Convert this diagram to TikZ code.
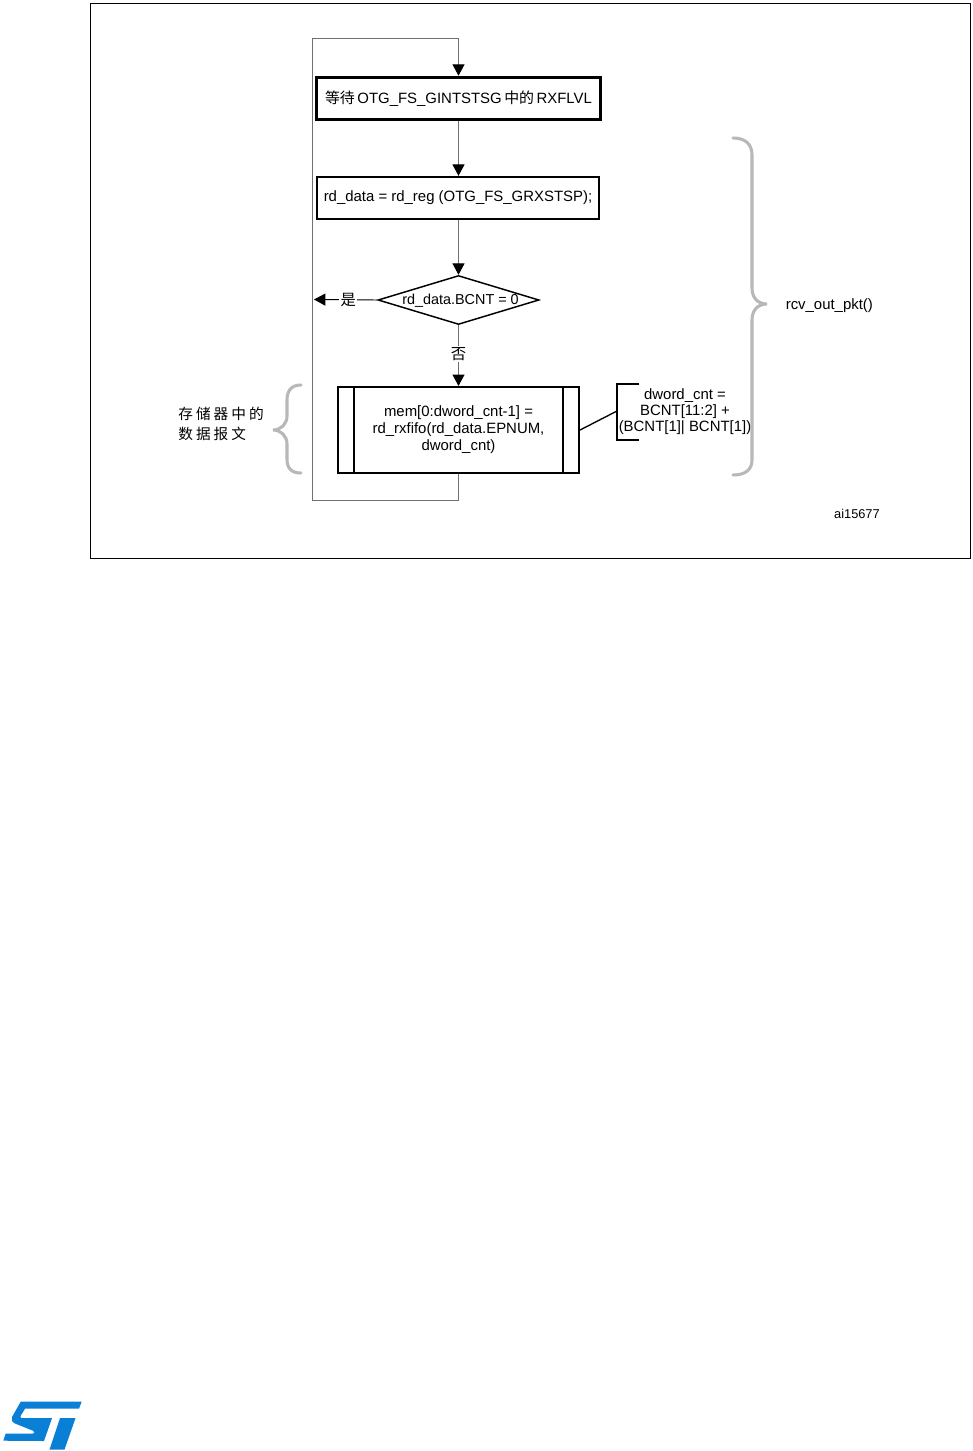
\documentclass[tikz,border=0pt]{standalone}
\usepackage{fontspec}
\setmainfont{Liberation Sans}
\newfontfamily\cjk{Noto Sans CJK SC}
\newfontfamily\cjkwide[LetterSpace=21]{Noto Sans CJK SC}
\usetikzlibrary{positioning,arrows.meta,calc,shapes.geometric}
\definecolor{stblue}{HTML}{0A7FD6}
\definecolor{brace}{HTML}{B8B8B8}
\definecolor{wire}{HTML}{707070}
\tikzset{
  flowbox/.style={draw,rectangle,inner sep=0pt,font=\fontsize{11.2}{12.75}\selectfont,align=center},
  decide/.style={draw,diamond,inner sep=0pt,line width=1.1pt,minimum width=120.75pt,minimum height=36.75pt},
  flow/.style={wire,line width=0.7pt,-{Stealth[black,length=8.5pt,width=9pt,inset=0pt]}},
  txt/.style={inner sep=0pt,font=\fontsize{11.2}{12}\selectfont,align=center},
  cjklabel/.style={fill=white,text=black,inner sep=1pt,font=\cjk\fontsize{11.5}{12}\selectfont},
  bracebar/.style={brace,line width=2.3pt,line cap=round}
}
\begin{document}
\begin{tikzpicture}[x=0.75pt,y=-0.75pt]
  \useasboundingbox (0,0) rectangle (972,1451);
  \fill[white] (0,0) rectangle (972,1451);
  \draw[line width=0.6pt] (90.5,3) rectangle (970,558);

  \node[flowbox,line width=2.2pt,minimum width=213pt,minimum height=32pt] (waitrx) at (458.5,98.5)
    {{\cjk 等待}\,OTG\_FS\_GINTSTSG\,{\cjk 中的}\,RXFLVL};
  \node[flowbox,line width=1.8pt,minimum width=211.5pt,minimum height=31.5pt] (rdreg) at (458,198)
    {\raisebox{-0.75pt}{rd\_data = rd\_reg (OTG\_FS\_GRXSTSP);}};
  \node[decide,label={[txt,xshift=1.5pt,yshift=-0.5pt,font=\fontsize{10.8}{12}\selectfont]center:rd\_data.BCNT = 0}] (bcnt) at (458.5,300) {};
  \node[flowbox,line width=1.6pt,minimum width=180.75pt,minimum height=64.5pt] (mem) at (458.5,430)
    {mem[0:dword\_cnt-1] =\\rd\_rxfifo(rd\_data.EPNUM,\\dword\_cnt)};
  \draw[line width=1.6pt] ($(mem.north west)+(17,0)$) -- ($(mem.south west)+(17,0)$);
  \draw[line width=1.6pt] ($(mem.north east)+(-17,0)$) -- ($(mem.south east)+(-17,0)$);

  \coordinate (loopbot) at (312.5,500);
  \coordinate (looptop) at (312.5,38);
  \coordinate (yesend) at (314,299.5);
  \draw[flow] (mem.south) |- (loopbot) -- (looptop) -| (waitrx.north);
  \draw[flow] (waitrx) -- (rdreg.north-|waitrx);
  \draw[flow] (rdreg.south-|bcnt) -- (bcnt.north);
  \draw[flow] (bcnt.south) -- node[pos=0.47,cjklabel] (nolabel) {否} (mem.north);
  \draw[flow,black] (bcnt.west) -- node[pos=0.46,cjklabel] (yeslabel) {是} (yesend);

  \node[txt] (dword) at (685,411.5) {dword\_cnt =\\BCNT[11:2] +\\(BCNT[1]| BCNT[1])};
  \coordinate (brtop) at (639,384);
  \coordinate (brbot) at (639,440);
  \coordinate (brmid) at (617,411);
  \draw[line width=1.1pt] (brtop) -| (brmid) |- (brbot);
  \draw[line width=1pt] (mem.east) -- (brmid);

  \draw[bracebar] (301,385) .. controls (291,385) and (287,391) .. (287,400) -- (287,416)
    .. controls (287,424) and (281,430) .. (273,430) .. controls (281,430) and (287,436) .. (287,444)
    -- (287,459) .. controls (287,468) and (291,473) .. (301,473);
  \draw[bracebar] (733,138) .. controls (745,138) and (752,144) .. (752,155) -- (752,288)
    .. controls (752,298) and (758,304) .. (767,304) .. controls (758,304) and (752,310) .. (752,320)
    -- (752,460) .. controls (752,470) and (745,475) .. (733,475);

  \node[inner sep=0pt,anchor=west,font=\cjkwide\fontsize{11}{15}\selectfont,align=left] (memlabel) at (178,424) {存储器中的\\数据报文};
  \node[txt,anchor=west] (rcvout) at (785.5,305.5) {rcv\_out\_pkt()};
  \node[txt,anchor=east,font=\fontsize{9.6}{12}\selectfont] (figid) at (880,514) {ai15677};

  \fill[stblue] (20.7,1401.7) -- (81.7,1401.7) -- (79,1408.7) -- (25,1408.7) -- (20.5,1416)
    .. controls (20,1417.5) and (21,1418.2) .. (23,1418.2) -- (52,1418.2) -- (44,1441)
    -- (3.3,1440.7) -- (5.7,1433.5) -- (33,1433.5) .. controls (35,1433.5) and (35,1431.5) .. (33,1430.7)
    -- (15,1423.5) .. controls (12,1422) and (11,1420) .. (12,1417) -- cycle;
  \fill[stblue] (60,1418.2) -- (75.5,1418.2) -- (64.5,1449.5) -- (49.5,1449.5) -- cycle;
\end{tikzpicture}
\end{document}
